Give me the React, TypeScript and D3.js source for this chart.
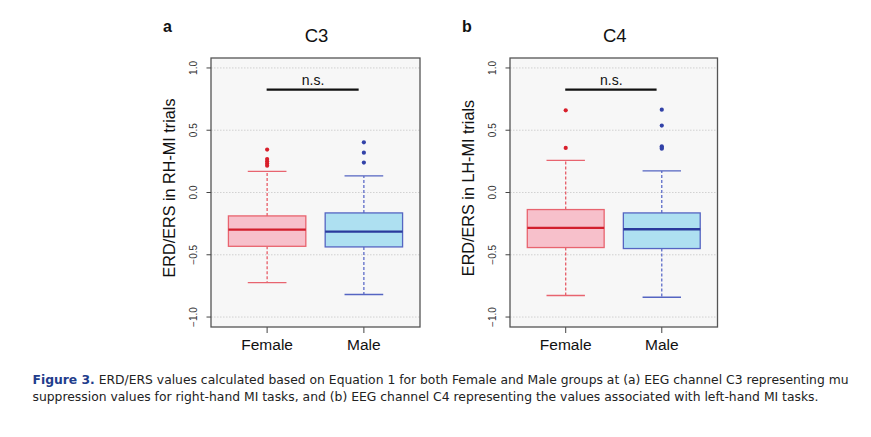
import React from "react";
import * as d3 from "d3";

const groups = ["Female", "Male"];

// Panel a: C3
const c3Lower = [-0.723, -0.819];
const c3Q1 = [-0.432, -0.437];
const c3Median = [-0.298, -0.314];
const c3Q3 = [-0.188, -0.164];
const c3Upper = [0.17, 0.133];
const c3Outliers = [
  [0.345, 0.268, 0.25, 0.232, 0.215],
  [0.403, 0.32, 0.24],
];

// Panel b: C4
const c4Lower = [-0.827, -0.841];
const c4Q1 = [-0.442, -0.45];
const c4Median = [-0.284, -0.295];
const c4Q3 = [-0.137, -0.164];
const c4Upper = [0.258, 0.173];
const c4Outliers = [
  [0.66, 0.358],
  [0.665, 0.537, 0.371, 0.36, 0.352],
];

const yTicks = [-1.0, -0.5, 0.0, 0.5, 1.0];
const yTickLabels = ["\u22121.0", "\u22120.5", "0.0", "0.5", "1.0"];

const fills = ["#f7c0cb", "#aee0f1"];
const strokes = ["#e8646f", "#5565c2"];
const medians = ["#d21f2d", "#2a3a9c"];
const whiskerColors = ["#e6505b", "#5060c4"];
const outlierColors = ["#d81f2b", "#3242a8"];

const FONT = "'Liberation Sans', Arial, Helvetica, sans-serif";

interface PanelProps {
  x0: number;
  x1: number;
  letter: string;
  title: string;
  ylabel: string;
  lower: number[];
  q1: number[];
  median: number[];
  q3: number[];
  upper: number[];
  outliers: number[][];
}

function Panel(p: PanelProps) {
  const top = 58;
  const bottom = 327;
  const y = d3.scaleLinear().domain([-1.08, 1.08]).range([bottom, top]);
  const x = d3.scaleLinear().domain([0.42, 2.58]).range([p.x0, p.x1]);
  const boxHalf = x(1.4) - x(1);
  const capHalf = x(1.2) - x(1);
  const cx = (p.x0 + p.x1) / 2;
  return (
    <g>
      <rect x={p.x0} y={top} width={p.x1 - p.x0} height={bottom - top} fill="#f7f7f7" />
      {yTicks.map((t, i) => (
        <line key={"g" + i} x1={p.x0} x2={p.x1} y1={y(t)} y2={y(t)} stroke="#c8c8c8" strokeWidth={0.8} strokeDasharray="1.5,1.5" />
      ))}
      {groups.map((g, i) => {
        const c = x(i + 1);
        return (
          <g key={g}>
            <line x1={c} x2={c} y1={y(p.q3[i])} y2={y(p.upper[i])} stroke={whiskerColors[i]} strokeWidth={1.2} strokeDasharray="3,2" />
            <line x1={c} x2={c} y1={y(p.q1[i])} y2={y(p.lower[i])} stroke={whiskerColors[i]} strokeWidth={1.2} strokeDasharray="3,2" />
            <line x1={c - capHalf} x2={c + capHalf} y1={y(p.upper[i])} y2={y(p.upper[i])} stroke={strokes[i]} strokeWidth={1.3} />
            <line x1={c - capHalf} x2={c + capHalf} y1={y(p.lower[i])} y2={y(p.lower[i])} stroke={strokes[i]} strokeWidth={1.3} />
            <rect x={c - boxHalf} y={y(p.q3[i])} width={2 * boxHalf} height={y(p.q1[i]) - y(p.q3[i])} fill={fills[i]} stroke={strokes[i]} strokeWidth={1.3} />
            <line x1={c - boxHalf} x2={c + boxHalf} y1={y(p.median[i])} y2={y(p.median[i])} stroke={medians[i]} strokeWidth={2.4} />
            {p.outliers[i].map((v, k) => (
              <circle key={k} cx={c} cy={y(v)} r={2.1} fill={outlierColors[i]} />
            ))}
            <line x1={c} x2={c} y1={bottom} y2={bottom + 6} stroke="#444" strokeWidth={1} />
            <text x={c} y={350} textAnchor="middle" fontSize={15.5} fontFamily={FONT} fill="#111">{g}</text>
          </g>
        );
      })}
      <rect x={p.x0} y={top} width={p.x1 - p.x0} height={bottom - top} fill="none" stroke="#555" strokeWidth={1.3} />
      {yTicks.map((t, i) => (
        <g key={"t" + i}>
          <line x1={p.x0 - 4.5} x2={p.x0} y1={y(t)} y2={y(t)} stroke="#444" strokeWidth={1} />
          <text transform={`translate(${p.x0 - 14},${y(t)}) rotate(-90)`} textAnchor="middle" fontSize={10} fontFamily={FONT} fill="#333">{yTickLabels[i]}</text>
        </g>
      ))}
      <line x1={x(0.995)} x2={x(1.946)} y1={y(0.826)} y2={y(0.826)} stroke="#111" strokeWidth={2.4} />
      <text x={x(1.475)} y={y(0.862)} textAnchor="middle" fontSize={14} fontFamily={FONT} fill="#111">n.s.</text>
      <text x={cx + 1} y={41.5} textAnchor="middle" fontSize={18.5} fontFamily={FONT} fill="#111">{p.title}</text>
      <text x={p.x0 - 48} y={31.5} fontSize={16} fontWeight="bold" fontFamily={FONT} fill="#111">{p.letter}</text>
      <text transform={`translate(${p.x0 - 36},188) rotate(-90)`} textAnchor="middle" fontSize={16.2} fontFamily={FONT} fill="#111">{p.ylabel}</text>
    </g>
  );
}

const captionLine1Rest = " ERD/ERS values calculated based on Equation 1 for both Female and Male groups at (a) EEG channel C3 representing mu";
const captionLine2 = "suppression values for right-hand MI tasks, and (b) EEG channel C4 representing the values associated with left-hand MI tasks.";

export default function App() {
  const capFont = "'DejaVu Sans Condensed', 'Liberation Sans Narrow', 'Open Sans', sans-serif";
  return (
    <svg width={871} height={437} style={{ position: "absolute", left: 0, top: 0, background: "#fff" }}>
      <rect width={871} height={437} fill="#fff" />
      <Panel x0={211} x1={420} letter="a" title="C3" ylabel="ERD/ERS in RH-MI trials"
        lower={c3Lower} q1={c3Q1} median={c3Median} q3={c3Q3} upper={c3Upper} outliers={c3Outliers} />
      <Panel x0={510} x1={717.5} letter="b" title="C4" ylabel="ERD/ERS in LH-MI trials"
        lower={c4Lower} q1={c4Q1} median={c4Median} q3={c4Q3} upper={c4Upper} outliers={c4Outliers} />
      <text x={32.5} y={384} fontSize={13} fontFamily={capFont} fill="#222" textLength={816} lengthAdjust="spacingAndGlyphs">
        <tspan fill="#1f3d8c" fontWeight="bold">Figure 3.</tspan>
        <tspan>{captionLine1Rest}</tspan>
      </text>
      <text x={32.5} y={400.5} fontSize={13} fontFamily={capFont} fill="#222" textLength={786} lengthAdjust="spacingAndGlyphs">
        {captionLine2}
      </text>
    </svg>
  );
}
